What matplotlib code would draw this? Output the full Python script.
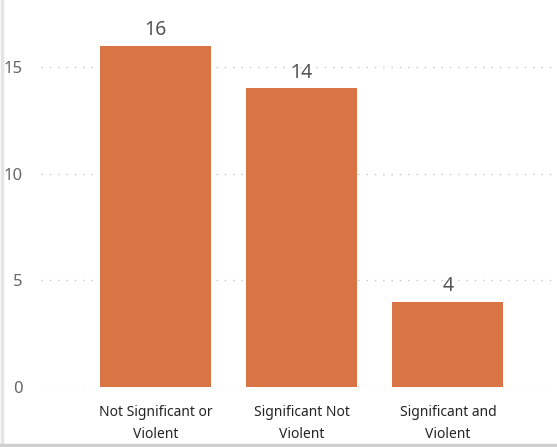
import matplotlib.pyplot as plt
from matplotlib.lines import Line2D

categories = ['Not Significant or\nViolent', 'Significant Not\nViolent', 'Significant and\nViolent']
counts = [16, 14, 4]
yticks = [0, 5, 10, 15]

plt.rcParams['font.family'] = ['Noto Sans', 'DejaVu Sans']

fig = plt.figure(figsize=(5.57, 4.47), dpi=100)
ax = fig.add_axes([41 / 557, 60 / 447, 512 / 557, 387 / 447])

x = range(len(categories))
bars = ax.bar(x, counts, width=0.76, color='#D97445', zorder=2)
for b, v in zip(bars, counts):
    ax.annotate(str(v), (b.get_x() + b.get_width() / 2, v), xytext=(0, 4),
                textcoords='offset points', ha='center', va='bottom',
                fontsize=14, color='#555555')

ax.set_xlim(-0.785, 2.72)
ax.set_ylim(0, 387 / (320 / 15))
ax.set_yticks(yticks)
ax.set_xticks(list(x))
ax.set_xticklabels(categories, fontsize=10, color='#252525', linespacing=1.6)
ax.tick_params(axis='y', length=0, pad=13, labelsize=12, labelcolor='#666666')
ax.tick_params(axis='x', length=0, pad=13)
ax.grid(axis='y', linestyle=(0, (1, 5)), color='#c8c8c8', linewidth=1, zorder=0)
for s in ax.spines.values():
    s.set_visible(False)

# faint frame edge along left and bottom
fig.add_artist(Line2D([0.003, 0.003], [0, 1], color='#e4e4e4', linewidth=2.5, transform=fig.transFigure))
fig.add_artist(Line2D([0, 1], [0.004, 0.004], color='#cfcfcf', linewidth=2.5, transform=fig.transFigure))

fig.savefig('out.png', dpi=100)
